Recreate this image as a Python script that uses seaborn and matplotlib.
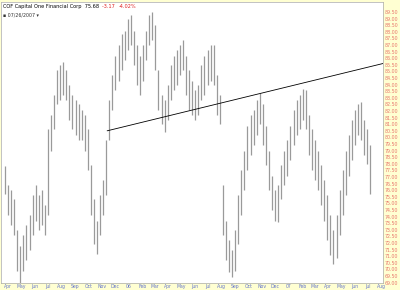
import matplotlib
matplotlib.use("Agg")
import matplotlib.pyplot as plt
import numpy as np
import pandas as pd
import seaborn as sns

# ---- data (weekly high / low) ----
first_week = "2005-03-25"
weekly_high = [77.8, 76.4, 76.0, 75.3, 73.0, 71.8, 72.6, 73.4, 74.1, 75.6,
               76.4, 75.6, 76.0, 74.9, 80.6, 81.7, 83.2, 85.1, 85.5, 85.7,
               85.1, 84.0, 83.2, 82.8, 82.5, 82.1, 81.7, 80.6, 77.9, 75.3,
               73.7, 75.6, 76.8, 79.8, 82.8, 84.7, 86.2, 87.0, 87.8, 88.1,
               89.0, 89.3, 88.1, 87.0, 86.2, 87.0, 88.1, 89.3, 89.5, 88.5,
               85.1, 83.2, 82.8, 84.0, 85.5, 86.2, 86.6, 87.0, 87.4, 86.2,
               85.1, 84.3, 83.6, 84.0, 85.5, 86.2, 86.6, 87.0, 87.0, 84.7,
               83.2, 76.4, 73.7, 72.2, 71.5, 73.0, 75.6, 77.5, 79.0, 80.9,
               81.7, 82.1, 82.8, 83.4, 82.5, 80.9, 79.0, 77.1, 76.0, 76.4,
               77.9, 79.0, 79.8, 80.9, 82.1, 82.8, 83.2, 83.7, 83.6, 81.7,
               80.6, 79.8, 79.0, 77.9, 76.8, 75.6, 74.1, 73.0, 74.1, 76.0,
               77.5, 79.0, 80.2, 81.3, 82.1, 82.5, 82.7, 81.3, 80.6, 79.4]
weekly_low = [75.7, 74.1, 73.4, 72.6, 69.9, 69.0, 69.9, 70.7, 71.5, 72.6,
              73.7, 73.0, 73.4, 72.6, 74.1, 79.0, 80.6, 82.5, 82.8, 83.2,
              82.8, 81.3, 80.6, 80.2, 79.8, 79.8, 79.0, 77.5, 74.1, 71.9,
              71.2, 72.6, 74.1, 75.6, 79.8, 82.1, 83.6, 84.3, 85.1, 85.9,
              86.6, 87.0, 85.5, 84.0, 83.2, 84.3, 85.9, 87.0, 87.4, 85.1,
              82.1, 81.0, 80.4, 81.3, 82.8, 83.6, 84.0, 84.7, 85.1, 83.2,
              82.1, 81.7, 81.3, 81.7, 82.8, 83.2, 84.0, 84.3, 84.0, 81.7,
              81.0, 72.6, 70.7, 69.8, 69.4, 69.9, 71.9, 74.1, 76.0, 77.5,
              78.7, 79.4, 80.2, 81.0, 79.4, 77.9, 76.0, 74.5, 73.7, 73.6,
              75.3, 76.4, 77.1, 78.3, 79.4, 80.2, 80.6, 81.3, 80.6, 78.7,
              77.5, 76.8, 76.0, 74.9, 73.7, 72.2, 71.1, 70.4, 70.9, 72.6,
              74.1, 75.6, 77.1, 78.3, 79.4, 80.2, 79.8, 78.7, 78.0, 75.68]

trend_dates = ["2005-11-13", "2007-08-04"]
trend_prices = [80.5, 85.6]

month_labels = ["Apr", "May", "Jun", "Jul", "Aug", "Sep", "Oct", "Nov", "Dec", "06",
                "Feb", "Mar", "Apr", "May", "Jun", "Jul", "Aug", "Sep", "Oct", "Nov",
                "Dec", "07", "Feb", "Mar", "Apr", "May", "Jun", "Jul", "Aug"]
month_starts = pd.date_range("2005-04-01", periods=len(month_labels), freq="MS")

title_name = "COF Capital One Financial Corp"
last_price = "75.68"
change = "-3.17"
change_pct = "-4.02%"
date_line = "\u25aa 07/26/2007 \u25be"

# ---- figure ----
sns.set_style("white")
plt.rcParams["font.family"] = ["DejaVu Sans"]

fig = plt.figure(figsize=(4.0, 2.9), dpi=100)
fig.patch.set_facecolor("#FFFFD2")
ax = fig.add_axes([1 / 400, 7 / 290, 382 / 400, 281 / 290])
ax.set_facecolor("white")

dates = pd.date_range(first_week, periods=len(weekly_high), freq="W-FRI")
df = pd.DataFrame({"date": dates, "high": weekly_high, "low": weekly_low})
ax.vlines(df["date"], df["low"], df["high"], color="#9a9a9a", linewidth=0.9)

tdf = pd.DataFrame({"date": pd.to_datetime(trend_dates), "price": trend_prices})
sns.lineplot(data=tdf, x="date", y="price", ax=ax, color="black", linewidth=0.6)

ax.set_xlim(pd.Timestamp("2005-03-16"), pd.Timestamp("2007-08-04"))
ax.set_ylim(68.97, 90.26)

yt = np.arange(69.0, 89.51, 0.5)
ax.yaxis.tick_right()
ax.set_yticks(yt)
ax.set_yticklabels([f"{v:.2f}" for v in yt], color="#E8786E", fontsize=3.4)
ax.tick_params(axis="y", length=0, pad=1.5)

ax.set_xticks(month_starts)
ax.set_xticklabels(month_labels, color="#6677CC", fontsize=3.3)
ax.tick_params(axis="x", length=0, pad=1.0)
ax.set_xlabel("")
ax.set_ylabel("")

for s in ax.spines.values():
    s.set_color("#aaaaaa")
    s.set_linewidth(0.5)

# legend text
t = ax.text(0.005, 0.992, title_name + "  " + last_price + "  ", transform=ax.transAxes,
            fontsize=3.6, color="black", va="top", ha="left")
fig.canvas.draw()
bb = t.get_window_extent().transformed(ax.transAxes.inverted())
t2 = ax.text(bb.x1, 0.992, change + "  ", transform=ax.transAxes, fontsize=3.6,
             color="#E02020", va="top", ha="left")
fig.canvas.draw()
bb2 = t2.get_window_extent().transformed(ax.transAxes.inverted())
ax.text(bb2.x1, 0.992, change_pct, transform=ax.transAxes, fontsize=3.6,
        color="#E02020", va="top", ha="left")
ax.text(0.005, 0.962, date_line, transform=ax.transAxes, fontsize=3.4,
        color="#333333", va="top", ha="left")

fig.savefig("out.png", dpi=100, facecolor=fig.get_facecolor())
